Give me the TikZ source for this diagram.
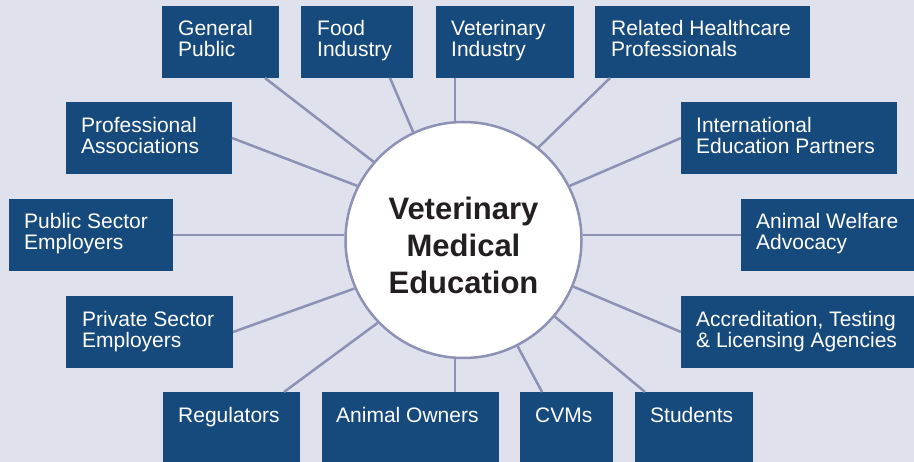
\documentclass[tikz,border=0pt]{standalone}
\usepackage{fontspec}
\setmainfont{Liberation Sans}
\usetikzlibrary{calc}
\definecolor{bgc}{HTML}{DFE2EC}
\definecolor{boxc}{HTML}{174A7C}
\definecolor{linkc}{HTML}{8C91B5}
\definecolor{inkc}{HTML}{231F20}
\begin{document}
\begin{tikzpicture}[x=1pt,y=-1pt,
  box/.style={fill=boxc, inner sep=0pt, outer sep=0pt, anchor=north west},
  lbl/.style={text=white, font=\fontsize{21}{21}\selectfont, align=left, anchor=base west, inner sep=0pt},
  link/.style={draw=linkc, line width=2.5pt},
  hub/.style={circle, fill=white, draw=linkc, line width=2.5pt, minimum size=236pt, inner sep=0pt},
  hubtext/.style={text=inkc, font=\bfseries\fontsize{31}{37}\selectfont, align=center, anchor=base, inner sep=0pt}]
\fill[bgc] (0,0) rectangle (914,462);
\useasboundingbox (0,0) rectangle (914,462);
% hub
\node[hub] (c) at (463.5,240) {};
\node[hubtext] (ct) at (463.5,294) {Veterinary\\Medical\\Education};
% boxes
\node[box, minimum width=117pt, minimum height=72pt] (gp) at (162,6) {};
\node[box, minimum width=112pt, minimum height=72pt] (fi) at (301,6) {};
\node[box, minimum width=138pt, minimum height=72pt] (vi) at (436,6) {};
\node[box, minimum width=215pt, minimum height=72pt] (rh) at (595,6) {};
\node[box, minimum width=166pt, minimum height=72pt] (pa) at (66,102) {};
\node[box, minimum width=216pt, minimum height=72pt] (ie) at (681,102) {};
\node[box, minimum width=164pt, minimum height=72pt] (pu) at (9,199) {};
\node[box, minimum width=173pt, minimum height=72pt] (aw) at (741,199) {};
\node[box, minimum width=167pt, minimum height=72pt] (pr) at (66,296) {};
\node[box, minimum width=233pt, minimum height=72pt] (ac) at (681,296) {};
\node[box, minimum width=137pt, minimum height=70pt] (rg) at (163,392) {};
\node[box, minimum width=177pt, minimum height=70pt] (ao) at (322,392) {};
\node[box, minimum width=93pt, minimum height=70pt] (cv) at (520,392) {};
\node[box, minimum width=118pt, minimum height=70pt] (st) at (635,392) {};
% labels (anchor = baseline of last line)
\node[lbl] (gpt) at ($(gp.north west)+(16,51)$) {General\\Public};
\node[lbl] (fit) at ($(fi.north west)+(16,51)$) {Food\\Industry};
\node[lbl] (vit) at ($(vi.north west)+(15,51)$) {Veterinary\\Industry};
\node[lbl] (rht) at ($(rh.north west)+(16,51)$) {Related Healthcare\\Professionals};
\node[lbl] (pat) at ($(pa.north west)+(15,52)$) {Professional\\Associations};
\node[lbl] (iet) at ($(ie.north west)+(15,52)$) {International\\Education Partners};
\node[lbl] (put) at ($(pu.north west)+(15,51)$) {Public Sector\\Employers};
\node[lbl] (awt) at ($(aw.north west)+(15,51)$) {Animal Welfare\\Advocacy};
\node[lbl] (prt) at ($(pr.north west)+(16,52)$) {Private Sector\\Employers};
\node[lbl] (act) at ($(ac.north west)+(15,52)$) {Accreditation, Testing\\\& Licensing Agencies};
\node[lbl] (rgt) at ($(rg.north west)+(15,31)$) {Regulators};
\node[lbl] (aot) at ($(ao.north west)+(14,31)$) {Animal Owners};
\node[lbl] (cvt) at ($(cv.north west)+(15,31)$) {CVMs};
\node[lbl] (stt) at ($(st.north west)+(15,31)$) {Students};
% connectors
\draw[link] ($(gp.south west)!0.88!(gp.south east)$) -- (c.139.2);
\draw[link] ($(fi.south west)!0.795!(fi.south east)$) -- (c.115.3);
\coordinate (viP) at ($(vi.south west)!0.138!(vi.south east)$);
\draw[link] (viP) -- (viP |- c.north);
\draw[link] ($(rh.south west)!0.07!(rh.south east)$) -- (c.51.5);
\draw[link] (pa.east) -- (c.153.8);
\draw[link] (ie.west) -- (c.27.3);
\draw[link] (pu.east) -- (pu.east -| c.west);
\draw[link] (aw.west) -- (aw.west -| c.east);
\draw[link] (pr.east) -- (c.204.1);
\draw[link] (ac.west) -- (c.337.1);
\draw[link] ($(rg.north west)!0.883!(rg.north east)$) -- (c.224.5);
\coordinate (aoP) at ($(ao.north west)!0.751!(ao.north east)$);
\draw[link] (aoP) -- (aoP |- c.south);
\draw[link] ($(cv.north west)!0.237!(cv.north east)$) -- (c.297.2);
\draw[link] ($(st.north west)!0.085!(st.north east)$) -- (c.320.5);
\end{tikzpicture}
\end{document}
